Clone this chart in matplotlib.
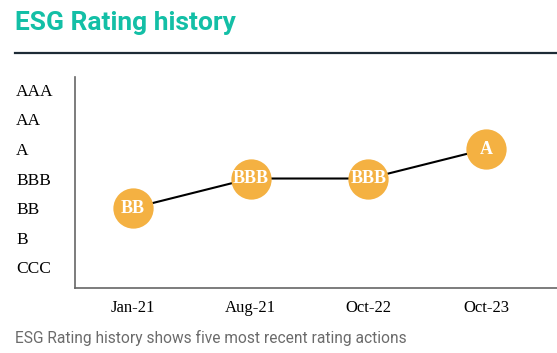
import matplotlib
matplotlib.use("Agg")
import matplotlib.pyplot as plt
from matplotlib.lines import Line2D

# rating scale, bottom to top
scale = ["CCC", "B", "BB", "BBB", "A", "AA", "AAA"]
dates = ["Jan-21", "Aug-21", "Oct-22", "Oct-23"]
ratings = ["BB", "BBB", "BBB", "A"]

W, H = 557, 353
fig = plt.figure(figsize=(W / 100, H / 100), dpi=100)

# title + rule
fig.text(15 / W, 1 - 23 / H, "ESG Rating history", family="Roboto", weight="bold",
         fontsize=19, color="#13BFA6", va="center", ha="left")
fig.add_artist(Line2D([15 / W, 1.0], [1 - 52.5 / H, 1 - 52.5 / H], color="#1d2b36", lw=1.6))

ax = fig.add_axes([75 / W, 1 - 288 / H, 1 - 75 / W, 211 / H])
x = list(range(len(dates)))
y = [scale.index(r) for r in ratings]
ax.plot(x, y, color="black", lw=1.5, zorder=2)
ax.scatter(x, y, s=29 ** 2, color="#F4B142", zorder=3, linewidths=0)
for xi, yi, r in zip(x, y, ratings):
    ax.text(xi, yi, r, ha="center", va="center", color="white", family="Liberation Serif",
            weight="bold", fontsize=13, zorder=4)

ax.set_xlim(-0.49, 3.6)
ax.set_ylim(-0.71, 6.44)
ax.set_xticks(x)
ax.set_xticklabels(dates, family="Liberation Serif", fontsize=12)
ax.set_yticks(range(len(scale)))
ax.set_yticklabels(scale, family="Liberation Serif", fontsize=12.5, ha="left")
ax.tick_params(axis="y", length=0, pad=59 * 0.72)
ax.tick_params(axis="x", length=0, pad=9)
for s in ["top", "right"]:
    ax.spines[s].set_visible(False)
for s in ["left", "bottom"]:
    ax.spines[s].set_color("#666666")
    ax.spines[s].set_linewidth(1.2)

fig.text(15 / W, 1 - 338 / H, "ESG Rating history shows five most recent rating actions",
         family="Roboto", fontsize=11.2, color="#6b6b6b", va="center", ha="left")

fig.savefig("out.png", dpi=100)
